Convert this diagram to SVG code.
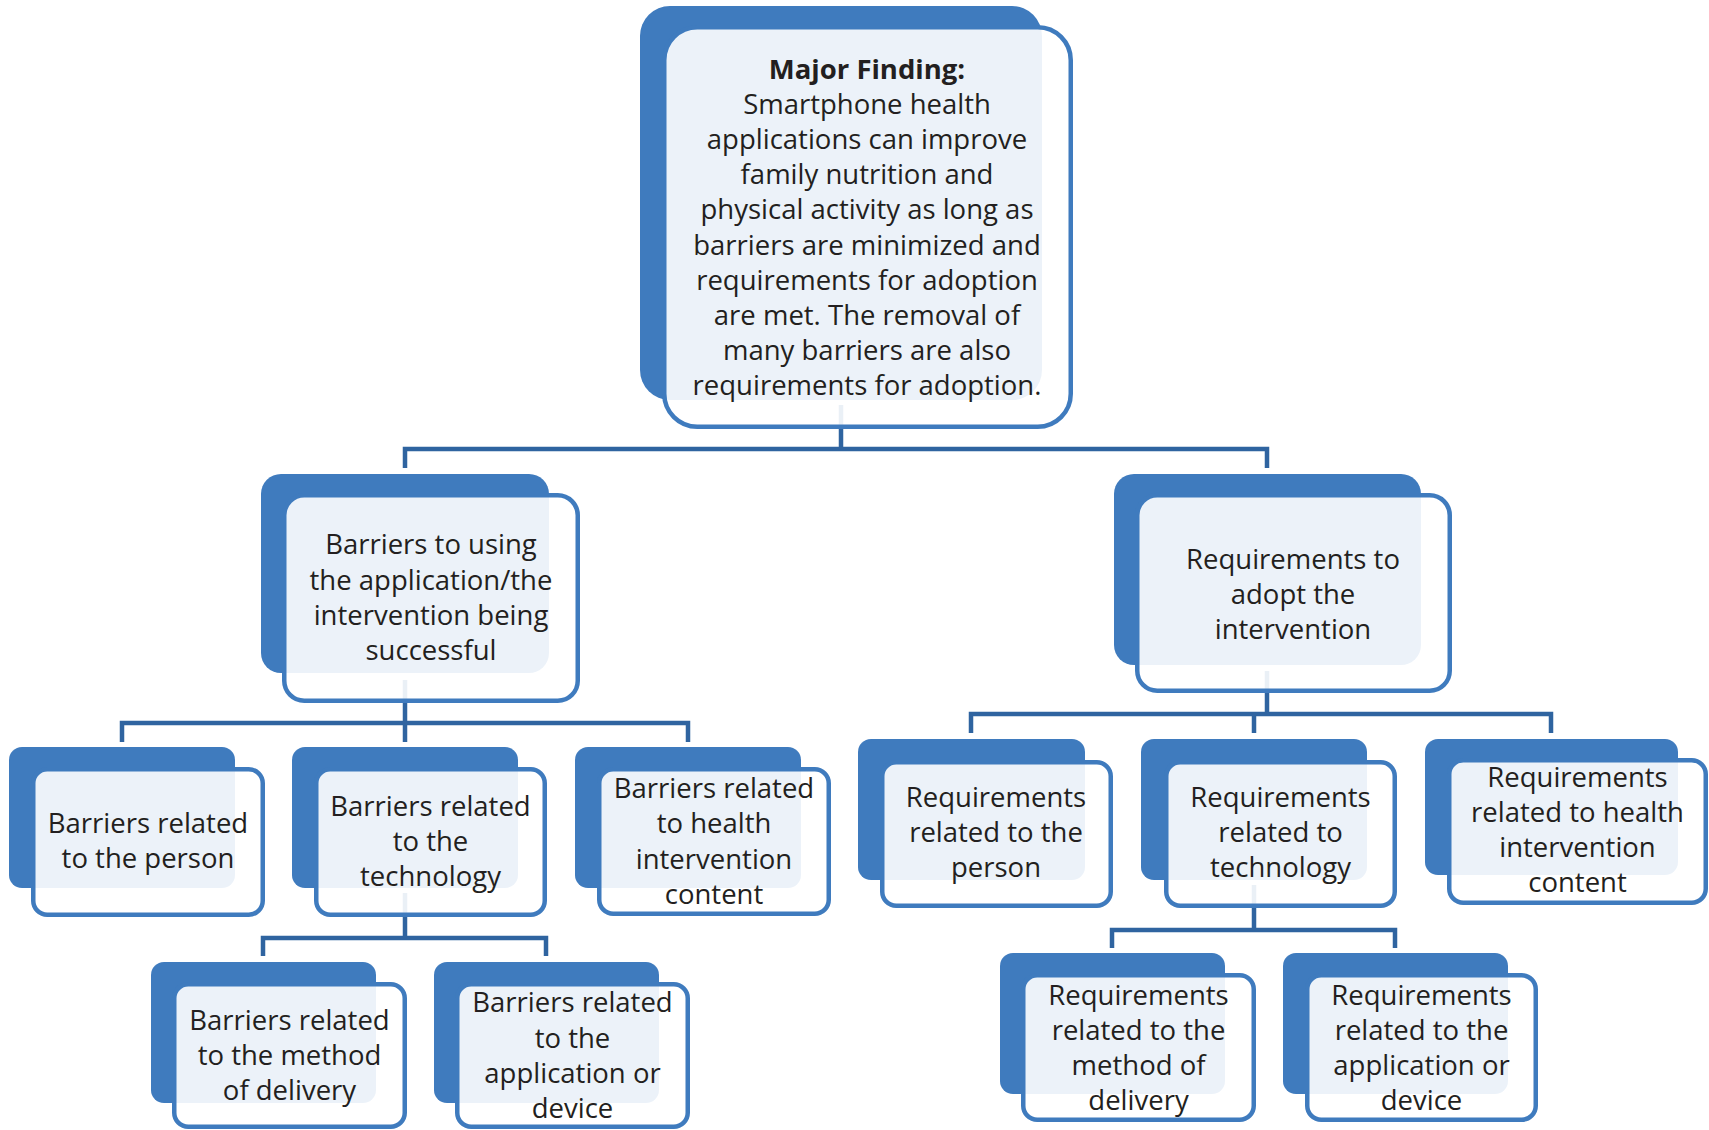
<svg xmlns="http://www.w3.org/2000/svg" width="1709" height="1130" viewBox="0 0 1709 1130">
<style>
.bk{fill:#3F7BBE}
.fr{fill:#ffffff;fill-opacity:0.9;stroke:#3F7BBE;stroke-width:4.5}
.cn{fill:none;stroke:#2F64A0;stroke-width:4.5;stroke-linecap:butt;stroke-linejoin:miter}
text{font-family:"Open Sans",Lato,"Liberation Sans",sans-serif;font-size:27.5px;fill:#231F20;text-anchor:middle}
.b{font-weight:bold}
</style>
<rect width="1709" height="1130" fill="#ffffff"/>
<g id="connectors">
<path class="cn" d="M841,405 V449 M405,468 V449 H1267 V468"/>
<path class="cn" d="M405,680 V723 M122,742 V723 H688 V742 M405,723 V742"/>
<path class="cn" d="M405,893 V938 M263,956 V938 H546 V956"/>
<path class="cn" d="M1267,671 V714 M971,733 V714 H1551 V733 M1254,714 V733"/>
<path class="cn" d="M1254,885 V930 M1112,948 V930 H1395 V948"/>
</g>
<g id="n-major">
<rect class="bk" x="640" y="6" width="402" height="394" rx="30"/>
<rect class="fr" x="664.25" y="27.25" width="406.5" height="399.5" rx="33"/>
<text x="867" y="79" class="b">Major Finding:</text>
<text x="867" y="114.1">Smartphone health</text>
<text x="867" y="149.2">applications can improve</text>
<text x="867" y="184.3">family nutrition and</text>
<text x="867" y="219.4">physical activity as long as</text>
<text x="867" y="254.5">barriers are minimized and</text>
<text x="867" y="289.6">requirements for adoption</text>
<text x="867" y="324.7">are met. The removal of</text>
<text x="867" y="359.8">many barriers are also</text>
<text x="867" y="394.9">requirements for adoption.</text>
</g>
<g id="n-barriers">
<rect class="bk" x="261" y="474" width="288" height="199" rx="20"/>
<rect class="fr" x="284.25" y="495.25" width="293.5" height="205.5" rx="20"/>
<text x="431" y="554">Barriers to using</text>
<text x="431" y="589.5">the application/the</text>
<text x="431" y="625">intervention being</text>
<text x="431" y="660">successful</text>
</g>
<g id="n-requirements">
<rect class="bk" x="1114" y="474" width="307" height="191" rx="20"/>
<rect class="fr" x="1137.25" y="495.25" width="312.5" height="195.5" rx="20"/>
<text x="1293" y="569">Requirements to</text>
<text x="1293" y="604">adopt the</text>
<text x="1293" y="639">intervention</text>
</g>
<g id="n-b-person">
<rect class="bk" x="9" y="747" width="226" height="141" rx="13"/>
<rect class="fr" x="33.25" y="769.25" width="229.5" height="145.5" rx="14"/>
<text x="148" y="833">Barriers related</text>
<text x="148" y="868">to the person</text>
</g>
<g id="n-b-tech">
<rect class="bk" x="292" y="747" width="226" height="141" rx="13"/>
<rect class="fr" x="316.25" y="769.25" width="228.5" height="145.5" rx="14"/>
<text x="430.5" y="816">Barriers related</text>
<text x="430.5" y="851">to the</text>
<text x="430.5" y="886">technology</text>
</g>
<g id="n-b-health">
<rect class="bk" x="575" y="747" width="226" height="141" rx="13"/>
<rect class="fr" x="599.25" y="769.25" width="229.5" height="144.5" rx="14"/>
<text x="714" y="798">Barriers related</text>
<text x="714" y="833">to health</text>
<text x="714" y="869">intervention</text>
<text x="714" y="904">content</text>
</g>
<g id="n-b-method">
<rect class="bk" x="151" y="962" width="225" height="141" rx="13"/>
<rect class="fr" x="174.25" y="984.25" width="230.5" height="142.5" rx="14"/>
<text x="289.5" y="1030">Barriers related</text>
<text x="289.5" y="1065">to the method</text>
<text x="289.5" y="1100">of delivery</text>
</g>
<g id="n-b-app">
<rect class="bk" x="434" y="962" width="225" height="141" rx="13"/>
<rect class="fr" x="457.25" y="984.25" width="230.5" height="142.5" rx="14"/>
<text x="572.5" y="1012">Barriers related</text>
<text x="572.5" y="1048">to the</text>
<text x="572.5" y="1083">application or</text>
<text x="572.5" y="1118">device</text>
</g>
<g id="n-r-person">
<rect class="bk" x="858" y="739" width="227" height="141" rx="13"/>
<rect class="fr" x="882.25" y="762.25" width="228.5" height="143.5" rx="14"/>
<text x="996" y="807">Requirements</text>
<text x="996" y="842">related to the</text>
<text x="996" y="877">person</text>
</g>
<g id="n-r-tech">
<rect class="bk" x="1141" y="739" width="226" height="141" rx="13"/>
<rect class="fr" x="1166.25" y="762.25" width="228.5" height="143.5" rx="14"/>
<text x="1280.5" y="807">Requirements</text>
<text x="1280.5" y="842">related to</text>
<text x="1280.5" y="877">technology</text>
</g>
<g id="n-r-health">
<rect class="bk" x="1425" y="739" width="253" height="136" rx="13"/>
<rect class="fr" x="1449.25" y="760.25" width="256.5" height="142.5" rx="14"/>
<text x="1577.5" y="787">Requirements</text>
<text x="1577.5" y="822">related to health</text>
<text x="1577.5" y="857">intervention</text>
<text x="1577.5" y="892">content</text>
</g>
<g id="n-r-method">
<rect class="bk" x="1000" y="953" width="225" height="141" rx="13"/>
<rect class="fr" x="1023.25" y="975.25" width="230.5" height="144.5" rx="14"/>
<text x="1138.5" y="1005">Requirements</text>
<text x="1138.5" y="1040">related to the</text>
<text x="1138.5" y="1075">method of</text>
<text x="1138.5" y="1110">delivery</text>
</g>
<g id="n-r-app">
<rect class="bk" x="1283" y="953" width="225" height="141" rx="13"/>
<rect class="fr" x="1307.25" y="975.25" width="228.5" height="144.5" rx="14"/>
<text x="1421.5" y="1005">Requirements</text>
<text x="1421.5" y="1040">related to the</text>
<text x="1421.5" y="1075">application or</text>
<text x="1421.5" y="1110">device</text>
</g>
</svg>
